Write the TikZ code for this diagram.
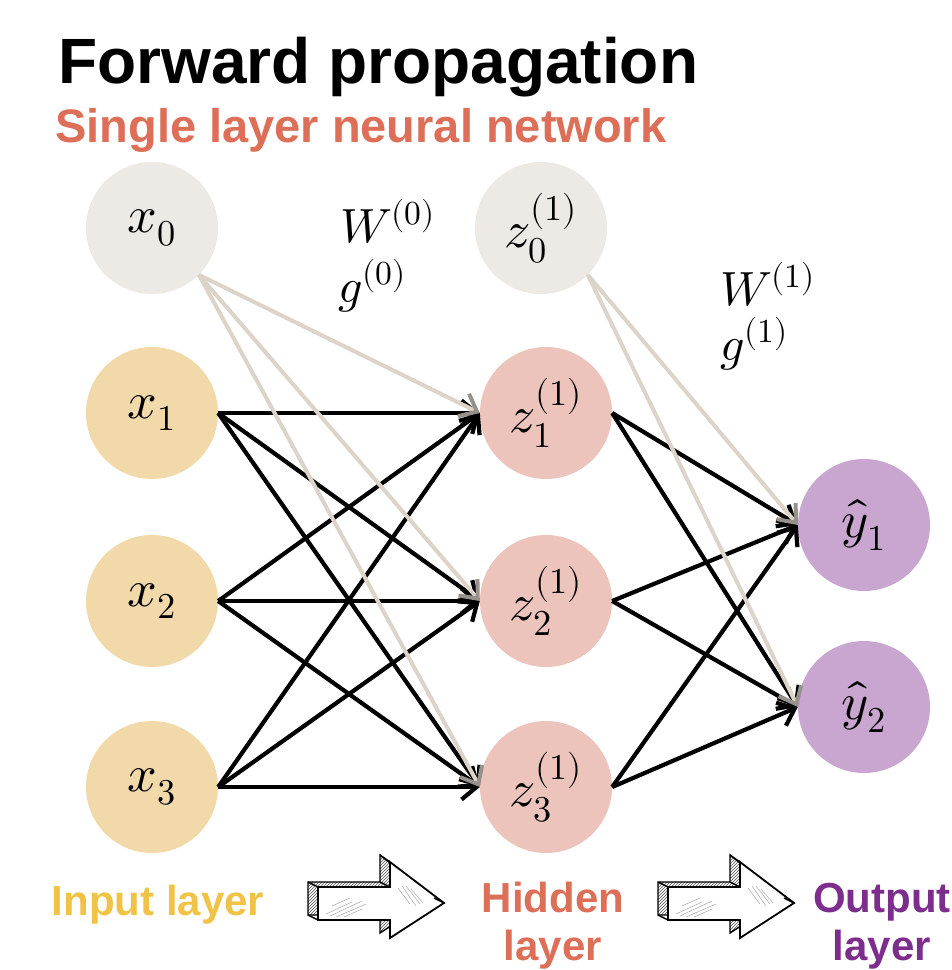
\documentclass[tikz,border=0pt]{standalone}
\usepackage{fontspec}
\usepackage{unicode-math}
\setmainfont{Liberation Sans}
\setmathfont{latinmodern-math.otf}
\usetikzlibrary{arrows.meta,patterns}
\definecolor{inyel}{RGB}{240,195,70}
\definecolor{hidred}{RGB}{221,110,88}
\definecolor{outpur}{RGB}{125,46,141}
\definecolor{nbias}{RGB}{237,233,228}
\definecolor{nin}{RGB}{242,217,170}
\definecolor{nhid}{RGB}{236,196,188}
\definecolor{nout}{RGB}{200,166,208}
\definecolor{biasline}{RGB}{220,212,201}
\definecolor{biastip}{RGB}{150,145,140}
\tikzset{
  neuron/.style={circle, minimum size=132pt, inner sep=0pt, font=\fontsize{52}{56}\selectfont},
  mathlbl/.style={anchor=base west, inner sep=0pt, font=\fontsize{48}{52}\selectfont},
  edge/.style={line width=4.2pt, -{Straight Barb[length=15pt,width=25pt]}},
  biasedge/.style={line width=4pt, biasline, -{Straight Barb[length=15pt,width=25pt,color=biastip]}},
  layerlbl/.style={inner sep=0pt, font=\fontsize{42}{48}\bfseries\selectfont, align=center},
  sketch/.style={gray!60, line width=0.6pt},
}
\begin{document}
\begin{tikzpicture}[x=1pt,y=-1pt]
\useasboundingbox (0,0) rectangle (952,970);
\fill[white] (0,0) rectangle (952,970);

% titles
\node[anchor=base west, inner sep=0pt, font=\fontsize{64}{70}\bfseries\selectfont] (title) at (58,83) {Forward propagation};
\node[anchor=base west, inner sep=0pt, text=hidred, font=\fontsize{47}{52}\bfseries\selectfont] (subtitle) at (55,142) {Single layer neural network};

% neurons
\node[neuron, fill=nbias] (x0) at (152,228) {$x_0$};
\node[neuron, fill=nin] (x1) at (152,413) {$x_1$};
\node[neuron, fill=nin] (x2) at (152,601) {$x_2$};
\node[neuron, fill=nin] (x3) at (152,787) {$x_3$};
\node[neuron, fill=nbias] (z0) at (541,228) {$z_0^{(1)}$};
\node[neuron, fill=nhid] (z1) at (546,413) {$z_1^{(1)}$};
\node[neuron, fill=nhid] (z2) at (546,601) {$z_2^{(1)}$};
\node[neuron, fill=nhid] (z3) at (546,787) {$z_3^{(1)}$};
\node[neuron, fill=nout] (y1) at (864,525) {$\hat{y}_1$};
\node[neuron, fill=nout] (y2) at (864,707) {$\hat{y}_2$};

% weight labels
\node[mathlbl] (W0) at (340,242) {$W^{(0)}$};
\node[mathlbl] (g0) at (338,302) {$g^{(0)}$};
\node[mathlbl] (W1) at (720,305) {$W^{(1)}$};
\node[mathlbl] (g1) at (720,360) {$g^{(1)}$};

% black edges
\foreach \i in {1,2,3}{
  \foreach \j in {1,2,3}{
    \draw[edge] (x\i.east) -- (z\j.west);
  }
  \foreach \k in {1,2}{
    \draw[edge] (z\i.east) -- (y\k.west);
  }
}
% bias edges
\foreach \j in {1,2,3}{
  \draw[biasedge] (x0.south east) -- (z\j.west);
}
\foreach \k in {1,2}{
  \draw[biasedge] (z0.south east) -- (y\k.west);
}

% block arrows
\foreach \dx in {0,350}{
  \begin{scope}[xshift=\dx pt]
    \draw[line width=1.4pt, pattern=north east lines, pattern color=black!70]
      (308,882) -- (380,882) -- (380,855) -- (434,898) -- (380,933) -- (380,915) -- (308,915) -- cycle;
    \draw[line width=1.8pt, fill=white]
      (318,887) -- (390,887) -- (390,862) -- (444,903) -- (390,938) -- (390,920) -- (318,920) -- cycle;
    \draw[line width=1.4pt] (308,882) -- (318,887) (308,915) -- (318,920)
      (380,882) -- (390,887) (380,855) -- (390,862) (434,898) -- (444,903);
    \draw[sketch] (326,914) -- (352,902) (330,916) -- (362,901) (336,917) -- (366,904)
      (344,917) -- (362,909) (332,906) -- (350,898);
    \draw[sketch] (398,888) -- (410,904) (402,886) -- (416,906) (406,886) -- (420,904)
      (411,889) -- (423,903);
  \end{scope}
}

% layer labels
\node[layerlbl, text=inyel, anchor=base] (inl) at (158,915) {Input layer};
\node[layerlbl, text=hidred, anchor=base] (hidl) at (553,960) {Hidden\\layer};
\node[layerlbl, text=outpur, anchor=base] (outl) at (882,960) {Output\\layer};
\end{tikzpicture}
\end{document}
